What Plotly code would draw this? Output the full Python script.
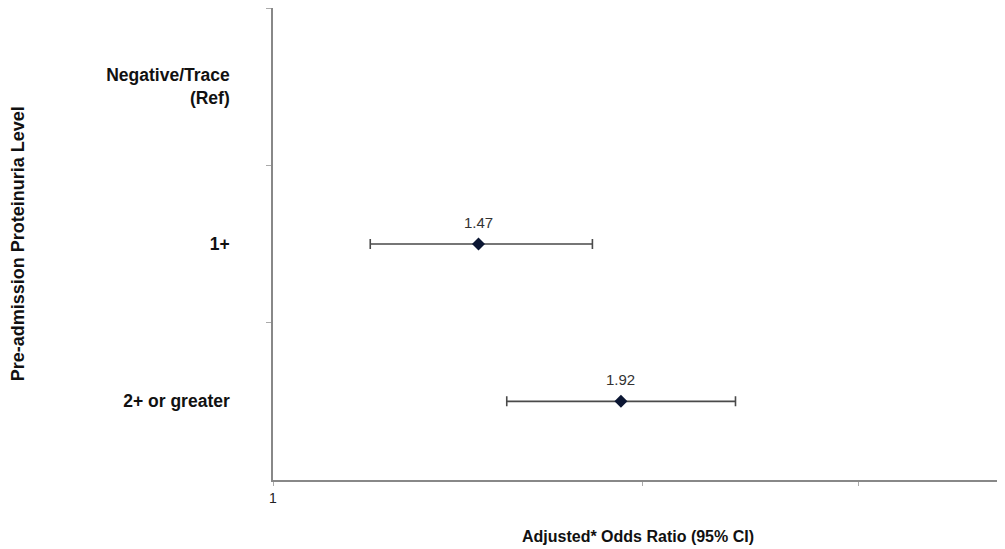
import plotly.graph_objects as go
import math

categories = ["Negative/Trace<br>(Ref)", "1+", "2+ or greater"]
plot_cats = ["1+", "2+ or greater"]
odds_ratio = [1.47, 1.92]
ci_low = [1.20, 1.55]
ci_high = [1.82, 2.38]
x_tickvals = [1, 2, 3, 4]
x_ticktext = ["1", "", "", ""]

fig = go.Figure()
fig.add_trace(go.Scatter(
    x=odds_ratio, y=plot_cats,
    mode="markers",
    marker=dict(symbol="diamond", size=10, color="#0b1633", line=dict(width=0)),
    error_x=dict(type="data", symmetric=False,
                 array=[h - v for h, v in zip(ci_high, odds_ratio)],
                 arrayminus=[v - l for v, l in zip(odds_ratio, ci_low)],
                 color="#4a4a4a", thickness=1.6, width=5),
    cliponaxis=False,
    showlegend=False,
))
for v, c in zip(odds_ratio, plot_cats):
    fig.add_annotation(
        x=math.log10(v), y=c, text=f"{v:.2f}", showarrow=False,
        yshift=22, font=dict(family="Liberation Sans, Arial", size=15, color="#333333"),
    )

fig.update_layout(
    width=997, height=541,
    margin=dict(l=265, r=2, t=0, b=69),
    paper_bgcolor="white", plot_bgcolor="white",
    font=dict(family="Liberation Sans, Arial", color="#111111"),
)
fig.update_xaxes(
    type="log", range=[0, math.log10(3.93)],
    tickvals=x_tickvals, ticktext=x_ticktext,
    showgrid=False, zeroline=False,
    showline=True, linecolor="#888888", linewidth=1.5,
    ticks="outside", ticklen=4, tickcolor="#aaaaaa",
    tickfont=dict(size=14, color="#222222"),
    title=dict(text="<b>Adjusted* Odds Ratio (95% CI)</b>", standoff=26,
               font=dict(size=16, color="#111111")),
)
fig.update_yaxes(
    type="category", categoryorder="array", categoryarray=categories,
    range=[2.5, -0.5], tickson="boundaries",
    showgrid=False, zeroline=False,
    showline=True, linecolor="#888888", linewidth=1.5,
    ticks="outside", ticklen=5, tickcolor="#aaaaaa",
    tickfont=dict(size=17.5, color="#111111", weight="bold"),
    ticklabelstandoff=38,
)
fig.add_annotation(
    text="<b>Pre-admission Proteinuria Level</b>", textangle=-90,
    xref="paper", yref="paper", x=-0.349, y=0.5, xanchor="center", yanchor="middle",
    showarrow=False, font=dict(size=18, color="#111111"),
)
fig.write_html("out.html")
